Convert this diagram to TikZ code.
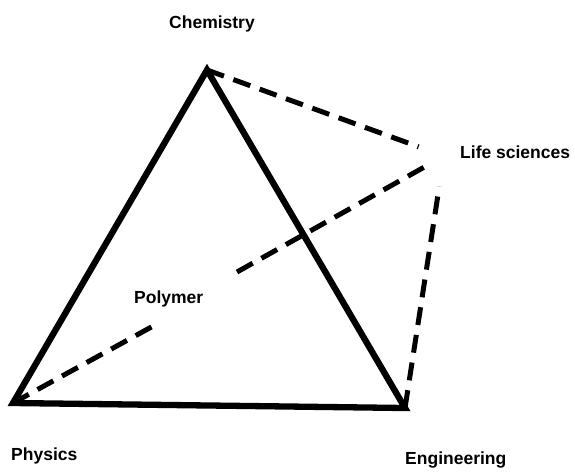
\documentclass[tikz,border=0pt]{standalone}
\usepackage{fontspec}
\setmainfont{Liberation Sans}
\begin{document}
\begin{tikzpicture}[x=1pt,y=-1pt,
  solidedge/.style={line width=6.3pt, line join=miter},
  dashedge/.style={line width=5pt, dash pattern=on 18pt off 10pt},
  lbl/.style={font=\bfseries\fontsize{17.5}{20}\selectfont, inner sep=0pt}]
\useasboundingbox (0,0) rectangle (575,472);
\coordinate (C) at (207,70);
\coordinate (P) at (13,403);
\coordinate (E) at (405,408);
\coordinate (L) at (444,156);
\coordinate (A) at (155,325);
\coordinate (B) at (237,272);
\draw[solidedge] (C) -- (P) -- (E) -- cycle;
\draw[dashedge, shorten >=27pt] (C) -- (L);
\draw[dashedge, shorten >=31pt] (E) -- (L);
\draw[dashedge] (P) -- (A);
\draw[dashedge, shorten >=17pt] (B) -- (L);
\node[lbl] (chem) at (212,24) {Chemistry};
\node[lbl, anchor=west] (life) at (460,152) {Life sciences};
\node[lbl, anchor=west] (phys) at (11,456) {Physics};
\node[lbl, anchor=west] (eng) at (405,460) {Engineering};
\node[lbl, anchor=west] (poly) at (134,299) {Polymer};
\end{tikzpicture}
\end{document}
